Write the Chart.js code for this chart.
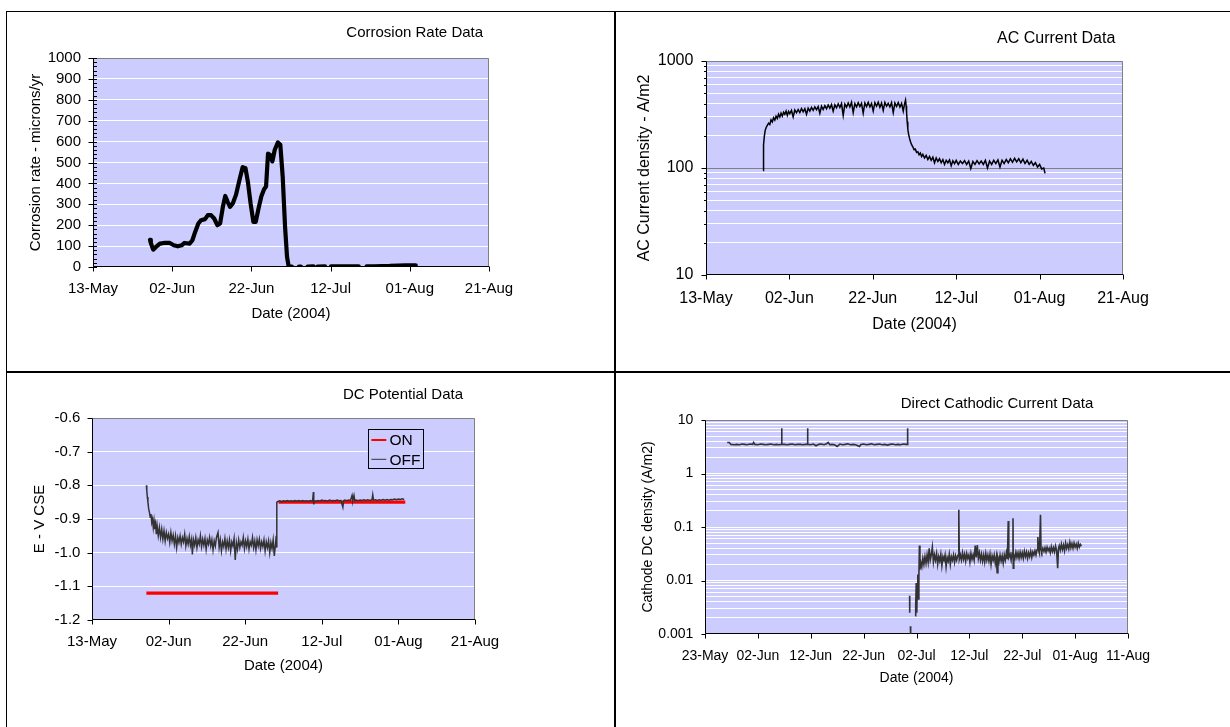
<!DOCTYPE html>
<html>
<head>
<meta charset="utf-8">
<title>Corrosion monitoring 2004</title>
<script src="https://cdn.jsdelivr.net/npm/chart.js@4.4.1/dist/chart.umd.min.js"></script>
<style>
  html, body { margin: 0; padding: 0; background: #fff; }
  #page { position: relative; width: 1230px; height: 727px; overflow: hidden; background: #fff; }
  #page canvas { position: absolute; }
  .rule { position: absolute; background: #000; z-index: 2; }
</style>
</head>
<body>
<div id="page">
  <canvas id="corrChart"></canvas>
  <canvas id="acChart"></canvas>
  <canvas id="dcChart"></canvas>
  <canvas id="cathChart"></canvas>
  <div class="rule" style="left:6px;top:11px;width:1224px;height:1px"></div>
  <div class="rule" style="left:6px;top:11px;width:1px;height:716px"></div>
  <div class="rule" style="left:614px;top:11px;width:2px;height:716px"></div>
  <div class="rule" style="left:6px;top:371px;width:1224px;height:2px"></div>
</div>
<script>
/* ============================================================
   Four Excel-style monitoring charts, redrawn with Chart.js.
   x values are days counted from 13-May-2004.
   ============================================================ */

const FONT = '"Liberation Sans", Arial, Helvetica, sans-serif';
const C = {
  plot: "#CCCCFF", grid: "#FFFFFF", frame: "#808080", axis: "#000000",
  ink: "#000000", trace: "#333333", red: "#FF0000", none: "rgba(0,0,0,0)",
};

/* ---------- axis ticks ---------- */
const TICK_DAYS = [0, 20, 40, 60, 80, 100];
const TICK_LABELS = ["13-May", "02-Jun", "22-Jun", "12-Jul", "01-Aug", "21-Aug"];
const TICK_DAYS_CATH = [10, 20, 30, 40, 50, 60, 70, 80, 90];
const TICK_LABELS_CATH = ["23-May", "02-Jun", "12-Jun", "22-Jun", "02-Jul",
                          "12-Jul", "22-Jul", "01-Aug", "11-Aug"];
const AC_DECADES = [10, 100, 1000];
const CATH_DECADES = [0.001, 0.01, 0.1, 1, 10];
const CATH_DECADE_LABELS = ["0.001", "0.01", "0.1", "1", "10"];

/* ---------- corrosion rate (microns/yr) ---------- */
const CR_DAY = [14.4, 14.6, 15.2, 15.9, 16.9, 17.9, 19.4, 20.4, 21.4, 22.4, 23.1, 24.4,
  25.1, 25.8, 26.6, 27.3, 28.3, 29.0, 29.8, 30.6, 31.4, 32.1, 32.8, 33.4, 34.0, 34.6,
  35.3, 36.1, 37.0, 37.8, 38.5, 39.1, 39.8, 40.5, 41.1, 41.8, 42.5, 43.2, 43.7, 44.2,
  44.7, 45.3, 45.9, 46.7, 47.3, 47.9, 48.5, 49.0, 49.4, 50.2, 50.5, 52.0, 52.5, 52.8,
  54.2, 55.7, 56.2, 56.7, 58.6, 59.3, 60.1, 62.0, 64.0, 67.1, 68.0, 69.1, 71.0, 73.0,
  74.6, 74.8, 75.0, 77.0, 79.0, 81.5];
const CR_VAL = [130, 115, 83, 96, 112, 115, 115, 104, 99, 104, 115, 112,
  128, 168, 208, 224, 229, 248, 248, 232, 200, 208, 288, 340, 312, 288,
  304, 345, 417, 478, 473, 409, 304, 216, 216, 280, 337, 372, 385, 542,
  537, 505, 561, 596, 585, 433, 192, 48, 3, 2, null, 2, 2, null,
  2, 3, null, 2, 3, null, 3, 3, 3, 3, null, 3, 3, 4,
  4, null, 6, 7, 8, 8];

/* ---------- AC current density (A/m2) ---------- */
const AC_DAY = [13.7, 13.75, 13.85, 14.0, 14.2, 14.4, 14.7, 15.0, 15.3, 15.6,
  15.9, 16.2, 16.5, 16.8, 17.1, 17.4, 17.7, 18.0, 18.3, 18.6,
  18.9, 19.2, 19.5, 19.8, 20.1, 20.5, 20.9, 21.3, 21.7, 22.1,
  22.5, 22.9, 23.3, 23.7, 24.1, 24.5, 24.9, 25.3, 25.7, 26.1,
  26.5, 26.9, 27.3, 27.7, 28.1, 28.5, 28.9, 29.3, 29.7, 30.1,
  30.5, 30.9, 31.3, 31.7, 32.1, 32.5, 32.9, 33.3, 33.7, 34.1,
  34.5, 34.9, 35.3, 35.7, 36.1, 36.5, 36.9, 37.3, 37.7, 38.1,
  38.5, 38.9, 39.3, 39.7, 40.1, 40.5, 40.9, 41.3, 41.7, 42.1,
  42.5, 42.9, 43.3, 43.7, 44.1, 44.5, 44.9, 45.3, 45.7, 46.1,
  46.5, 46.9, 47.3, 47.6, 47.85, 48.0, 48.1, 48.25, 48.4, 48.6,
  48.8, 49.0, 49.3, 49.6, 49.9, 50.2, 50.5, 50.8, 51.1, 51.4,
  51.7, 52.0, 52.4, 52.8, 53.2, 53.6, 54.0, 54.4, 54.8, 55.2,
  55.6, 56.0, 56.4, 56.8, 57.2, 57.6, 58.0, 58.4, 58.8, 59.2,
  59.6, 60.0, 60.5, 61.0, 61.5, 62.0, 62.5, 63.0, 63.5, 64.0,
  64.5, 65.0, 65.5, 66.0, 66.5, 67.0, 67.5, 68.0, 68.5, 69.0,
  69.5, 70.0, 70.5, 71.0, 71.5, 72.0, 72.5, 73.0, 73.5, 74.0,
  74.5, 75.0, 75.5, 76.0, 76.5, 77.0, 77.5, 78.0, 78.5, 79.0,
  79.5, 80.0, 80.5, 81.0, 81.3];
const AC_VAL = [95, 130, 165, 200, 225, 238, 250, 262, 255, 282,
  270, 295, 280, 305, 290, 318, 300, 325, 305, 332,
  318, 340, 310, 338, 322, 345, 300, 348, 328, 352,
  330, 360, 335, 358, 318, 362, 340, 368, 345, 372,
  350, 375, 325, 378, 352, 382, 358, 388, 362, 392,
  340, 390, 365, 398, 368, 400, 310, 395, 370, 405,
  372, 412, 330, 400, 372, 408, 375, 402, 325, 405,
  375, 410, 372, 400, 340, 408, 378, 412, 370, 405,
  345, 410, 378, 402, 372, 408, 330, 405, 376, 410,
  372, 402, 340, 395, 430, 380, 330, 270, 230, 205,
  190, 178, 165, 158, 148, 150, 140, 142, 133, 138,
  128, 134, 124, 131, 120, 128, 118, 126, 112, 124,
  115, 122, 112, 120, 108, 118, 112, 119, 105, 117,
  110, 118, 108, 116, 110, 117, 108, 116, 99, 115,
  108, 117, 109, 116, 108, 118, 100, 116, 108, 118,
  110, 119, 102, 118, 110, 120, 112, 122, 113, 123,
  114, 122, 112, 121, 110, 118, 108, 115, 106, 112,
  102, 108, 98, 100, 89];

/* ---------- DC potential (V CSE) ---------- */
const ON_DAY = [14.2, 48.6, 48.65, 48.7, 81.8];
const ON_VAL = [-1.12, -1.12, null, -0.85, -0.85];
const OFF_DAY = [14.2, 14.3, 14.45, 14.6, 14.8, 15.0, 15.2, 15.4, 15.6, 15.8,
  16.0, 16.2, 16.4, 16.6, 16.8, 17.0, 17.3, 17.6, 17.9, 18.2,
  18.5, 18.8, 19.1, 19.4, 19.7, 20.0, 20.3, 20.6, 20.9, 21.2,
  21.5, 21.8, 22.1, 22.4, 22.7, 23.0, 23.3, 23.6, 23.9, 24.2,
  24.5, 24.8, 25.1, 25.4, 25.7, 26.0, 26.2, 26.5, 26.8, 27.1,
  27.4, 27.7, 28.0, 28.3, 28.6, 28.9, 29.2, 29.5, 29.8, 30.1,
  30.4, 30.7, 31.0, 31.3, 31.6, 31.9, 32.2, 32.5, 32.9, 33.2,
  33.5, 33.8, 34.1, 34.4, 34.7, 35.0, 35.3, 35.6, 35.9, 36.2,
  36.5, 36.8, 37.1, 37.4, 37.7, 38.0, 38.3, 38.6, 38.9, 39.2,
  39.5, 39.8, 40.1, 40.4, 40.7, 41.0, 41.3, 41.6, 41.9, 42.2,
  42.5, 42.8, 43.1, 43.4, 43.7, 44.0, 44.3, 44.6, 44.9, 45.2,
  45.5, 45.8, 46.1, 46.4, 46.7, 47.0, 47.3, 47.6, 47.9, 48.1,
  48.2, 48.3, 48.6, 49.0, 49.5, 50.0, 50.5, 51.0, 51.5, 52.0,
  52.5, 53.0, 53.5, 54.0, 54.5, 55.0, 55.5, 56.0, 56.5, 57.0,
  57.6, 57.8, 57.9, 58.0, 58.5, 59.0, 59.5, 60.0, 60.5, 61.0,
  61.5, 62.0, 62.5, 63.0, 63.5, 64.0, 64.5, 65.0, 65.5, 65.7,
  66.0, 66.5, 67.0, 67.5, 67.9, 68.1, 68.4, 68.6, 69.0, 69.5,
  70.0, 70.5, 71.0, 71.5, 72.0, 72.5, 73.1, 73.3, 73.5, 74.0,
  74.5, 75.0, 75.5, 76.0, 76.5, 77.0, 77.5, 78.0, 78.5, 79.0,
  79.5, 80.0, 80.5, 81.0, 81.5];
const OFF_VAL = [-0.800, -0.815, -0.835, -0.850, -0.870, -0.880, -0.895, -0.885, -0.910, -0.900,
  -0.925, -0.905, -0.930, -0.915, -0.945, -0.920, -0.950, -0.925, -0.955, -0.930,
  -0.960, -0.935, -0.965, -0.940, -0.958, -0.945, -0.970, -0.940, -0.965, -0.948,
  -0.975, -0.950, -0.985, -0.955, -0.970, -0.950, -0.975, -0.955, -0.968, -0.945,
  -0.980, -0.958, -0.975, -0.952, -0.978, -0.960, -1.005, -0.962, -0.978, -0.955,
  -0.985, -0.962, -0.975, -0.950, -0.982, -0.960, -0.978, -0.958, -0.990, -0.962,
  -0.975, -0.955, -0.980, -0.962, -0.992, -0.965, -0.980, -0.955, -0.940, -0.985,
  -0.962, -0.995, -0.968, -0.982, -0.958, -0.990, -0.965, -0.985, -0.962, -0.995,
  -0.968, -0.980, -0.958, -1.022, -0.970, -0.990, -0.962, -0.985, -0.968, -0.978,
  -0.955, -0.988, -0.965, -0.982, -0.960, -0.990, -0.968, -0.978, -0.955, -0.985,
  -0.965, -0.992, -0.962, -0.980, -0.960, -0.988, -0.968, -0.982, -0.962, -0.995,
  -0.968, -0.985, -0.965, -1.000, -0.970, -0.988, -0.962, -1.010, -0.975, -0.950,
  -0.985, -0.850, -0.848, -0.846, -0.849, -0.846, -0.848, -0.845, -0.848, -0.846,
  -0.848, -0.845, -0.847, -0.845, -0.848, -0.845, -0.847, -0.846, -0.848, -0.845,
  -0.847, -0.820, -0.857, -0.846, -0.847, -0.845, -0.847, -0.844, -0.846, -0.845,
  -0.847, -0.844, -0.846, -0.845, -0.846, -0.844, -0.846, -0.845, -0.865, -0.846,
  -0.844, -0.846, -0.844, -0.845, -0.830, -0.845, -0.830, -0.845, -0.844, -0.846,
  -0.844, -0.845, -0.843, -0.845, -0.843, -0.845, -0.843, -0.828, -0.844, -0.843,
  -0.845, -0.843, -0.844, -0.842, -0.844, -0.842, -0.844, -0.842, -0.843, -0.841,
  -0.843, -0.841, -0.842, -0.840, -0.842];

/* ---------- direct cathodic current density (A/m2) ---------- */
const CATH_DAY = [14.2, 14.6, 14.9, 15.5, 16.0, 16.5, 17.0, 17.5, 18.0, 18.5,
  19.0, 19.2, 19.4, 20.0, 20.5, 21.0, 21.5, 22.0, 22.5, 23.0,
  23.5, 24.0, 24.45, 24.5, 24.55, 25.0, 25.5, 26.0, 26.5, 27.0,
  27.5, 28.0, 28.5, 29.0, 29.35, 29.4, 29.45, 30.0, 30.5, 31.0,
  31.5, 32.0, 32.5, 33.0, 33.3, 33.6, 34.0, 34.5, 35.0, 35.5,
  36.0, 36.5, 37.0, 37.5, 38.0, 38.5, 39.2, 39.5, 40.0, 40.5,
  41.0, 41.5, 42.0, 42.5, 43.0, 43.5, 44.0, 44.5, 45.0, 45.5,
  46.0, 46.5, 47.0, 47.5, 48.0, 48.25, 48.3, 48.35, 48.5, 48.55,
  48.7, 48.72, 48.74, 48.85, 48.9, 48.95, 49.75, 49.85, 49.95, 50.05,
  50.15, 50.25, 50.35, 50.45, 50.55, 50.65, 50.8, 51.0, 51.2, 51.4,
  51.6, 51.8, 52.0, 52.2, 52.4, 52.6, 52.8, 53.0, 53.2, 53.4,
  53.6, 53.8, 54.0, 54.2, 54.4, 54.6, 54.8, 55.0, 55.2, 55.4,
  55.6, 55.8, 56.0, 56.2, 56.4, 56.6, 56.8, 57.0, 57.2, 57.4,
  57.6, 57.85, 58.0, 58.1, 58.3, 58.5, 58.7, 58.9, 59.1, 59.3,
  59.5, 59.7, 59.9, 60.1, 60.3, 60.5, 60.7, 60.9, 61.1, 61.3,
  61.5, 61.7, 61.9, 62.1, 62.3, 62.5, 62.7, 62.9, 63.1, 63.3,
  63.5, 63.7, 63.9, 64.1, 64.3, 64.5, 64.7, 64.9, 65.1, 65.25,
  65.4, 65.6, 65.8, 66.0, 66.2, 66.4, 66.6, 66.8, 67.0, 67.2,
  67.35, 67.45, 67.7, 67.9, 68.1, 68.25, 68.3, 68.4, 68.6, 68.8,
  69.0, 69.2, 69.4, 69.6, 69.8, 70.0, 70.2, 70.4, 70.6, 70.8,
  71.0, 71.2, 71.4, 71.6, 71.8, 72.0, 72.2, 72.4, 72.6, 72.8,
  72.95, 73.1, 73.25, 73.45, 73.55, 73.7, 73.9, 74.1, 74.3, 74.5,
  74.7, 74.9, 75.1, 75.3, 75.5, 75.7, 75.9, 76.1, 76.3, 76.5,
  76.7, 76.85, 77.0, 77.2, 77.4, 77.6, 77.8, 78.0, 78.2, 78.4,
  78.6, 78.8, 79.0, 79.2, 79.4, 79.6, 79.8, 80.0, 80.2, 80.4,
  80.6, 80.8, 81.0, 81.2];
const CATH_VAL = [3.8, 3.8, 3.5, 3.45, 3.5, 3.45, 3.55, 3.5, 3.45, 3.55,
  3.5, 3.8, 3.5, 3.45, 3.55, 3.5, 3.45, 3.5, 3.55, 3.45,
  3.5, 3.45, 3.5, 7.0, 3.5, 3.5, 3.45, 3.5, 3.55, 3.45,
  3.5, 3.5, 3.45, 3.5, 3.5, 7.0, 3.5, 3.45, 3.55, 3.3,
  3.5, 3.55, 3.45, 3.6, 3.8, 3.45, 3.5, 3.45, 3.2, 3.55,
  3.45, 3.5, 3.6, 3.45, 3.5, 3.45, 3.2, 3.5, 3.55, 3.45,
  3.5, 3.6, 3.45, 3.5, 3.55, 3.45, 3.5, 3.4, 3.5, 3.55,
  3.45, 3.5, 3.45, 3.55, 3.5, 3.5, 7.0, 3.5, 3.5, null,
  0.0052, 0.0025, null, 0.0014, 0.0008, null, 0.0022, 0.0035, 0.009, 0.0025,
  0.008, 0.013, 0.0045, 0.012, 0.045, 0.016, 0.022, 0.018, 0.026, 0.02,
  0.028, 0.021, 0.03, 0.022, 0.04, 0.024, 0.03, 0.042, 0.022, 0.03,
  0.024, 0.032, 0.02, 0.028, 0.023, 0.031, 0.019, 0.028, 0.024, 0.03,
  0.018, 0.027, 0.023, 0.031, 0.02, 0.028, 0.024, 0.03, 0.022, 0.029,
  0.024, 0.03, 0.21, 0.025, 0.03, 0.024, 0.033, 0.025, 0.031, 0.023,
  0.032, 0.026, 0.03, 0.022, 0.032, 0.025, 0.03, 0.024, 0.045, 0.027,
  0.046, 0.026, 0.033, 0.024, 0.031, 0.023, 0.03, 0.022, 0.032, 0.024,
  0.03, 0.023, 0.031, 0.02, 0.029, 0.024, 0.03, 0.021, 0.028, 0.014,
  0.027, 0.022, 0.03, 0.023, 0.029, 0.021, 0.03, 0.024, 0.033, 0.025,
  0.13, 0.027, 0.031, 0.024, 0.033, 0.145, 0.017, 0.03, 0.026, 0.034,
  0.027, 0.033, 0.026, 0.034, 0.027, 0.033, 0.026, 0.035, 0.028, 0.034,
  0.026, 0.033, 0.028, 0.035, 0.027, 0.034, 0.03, 0.036, 0.03, 0.038,
  0.065, 0.036, 0.032, 0.17, 0.038, 0.034, 0.04, 0.035, 0.041, 0.034,
  0.042, 0.036, 0.04, 0.033, 0.043, 0.035, 0.041, 0.034, 0.044, 0.036,
  0.017, 0.04, 0.045, 0.037, 0.048, 0.038, 0.046, 0.036, 0.05, 0.04,
  0.047, 0.039, 0.052, 0.041, 0.049, 0.04, 0.05, 0.042, 0.048, 0.04,
  0.05, 0.042, 0.047, 0.044];

/* ---------- page layout (page pixels) ---------- */
const LAYOUT = {
  corr: { cell: [7, 12, 607, 359], plot: [93, 58, 489, 267], font: 15,
          title: ["Corrosion Rate Data", 414.7, 33, 15], yTitle: "Corrosion rate - microns/yr",
          yTitleX: 36.3, yLabRight: 81, xLabY: 289.3, xTitleY: 313.7 },
  ac:   { cell: [616, 12, 614, 359], plot: [706, 61, 1123, 275], font: 16,
          title: ["AC Current Data", 1056.2, 38.3, 16], yTitle: "AC Current density - A/m2",
          yTitleX: 645, yLabRight: 693.4, xLabY: 298.3, xTitleY: 325 },
  dc:   { cell: [7, 373, 607, 354], plot: [92, 418, 475, 620], font: 15,
          title: ["DC Potential Data", 403, 395, 15], yTitle: "E - V CSE",
          yTitleX: 39.8, yLabRight: 80.4, xLabY: 642.3, xTitleY: 666.3 },
  cath: { cell: [616, 373, 614, 354], plot: [705, 420, 1128, 634], font: 14,
          title: ["Direct Cathodic Current Data", 997, 404.2, 15], yTitle: "Cathode DC density (A/m2)",
          yTitleX: 648.3, yLabRight: 693.4, xLabY: 655.8, xTitleY: 678.3 },
};

const pts = (xs, ys) => xs.map((x, i) => ({ x, y: ys[i] }));

function logTicks(decades) {
  const out = [];
  decades.forEach((d, i) => {
    out.push(d);
    if (i < decades.length - 1) for (let k = 2; k <= 9; k++) out.push(+(d * k).toPrecision(6));
  });
  return out;
}

const isEdge = (ctx) => {
  const v = ctx.tick.value, s = ctx.scale;
  return Math.abs(v - s.min) < 1e-9 || Math.abs(v - s.max) < 1e-9;
};

/* ---------- plot background, frame, Excel tick marks, title, legend ---------- */
const excelFrame = {
  id: "excelFrame",
  beforeDraw(chart) {
    const { ctx, chartArea: a } = chart;
    ctx.save();
    ctx.fillStyle = C.plot;
    ctx.fillRect(a.left, a.top, a.right - a.left, a.bottom - a.top);
    ctx.restore();
  },
  beforeDatasetsDraw(chart, args, o) {
    const { ctx, chartArea: a, scales: { x, y } } = chart;
    const L = Math.round(a.left) + 0.5, R = Math.round(a.right) - 0.5;
    const T = Math.round(a.top) + 0.5, B = Math.round(a.bottom) - 0.5;
    const m = o.marks;
    ctx.save();
    ctx.lineWidth = 1;
    ctx.strokeStyle = C.frame;
    ctx.beginPath(); ctx.moveTo(L, T); ctx.lineTo(R, T); ctx.lineTo(R, B); ctx.stroke();
    ctx.strokeStyle = C.axis;
    ctx.beginPath(); ctx.moveTo(L, T); ctx.lineTo(L, B); ctx.lineTo(R + 0.5, B); ctx.stroke();
    ctx.beginPath();
    x.ticks.forEach((t) => {
      const px = Math.round(x.getPixelForValue(t.value)) + 0.5;
      ctx.moveTo(px, B); ctx.lineTo(px, B + m.xOut);
    });
    y.ticks.forEach((t) => {
      const py = Math.round(y.getPixelForValue(t.value)) + 0.5;
      if (t.label !== "") { ctx.moveTo(L - m.yOut, py); ctx.lineTo(L + m.yIn, py); }
      else if (m.minorOut) { ctx.moveTo(L - m.minorOut, py); ctx.lineTo(L, py); }
    });
    if (m.minorStep) {
      for (let v = y.min; v <= y.max; v += m.minorStep) {
        const py = Math.round(y.getPixelForValue(v)) + 0.5;
        ctx.moveTo(L, py); ctx.lineTo(L + m.minorIn, py);
      }
    }
    ctx.stroke();
    ctx.restore();
  },
  afterDraw(chart, args, o) {
    const { ctx } = chart;
    const [cx, cy] = o.cell;
    const [text, tx, ty, size] = o.title;
    ctx.save();
    ctx.fillStyle = C.ink;
    ctx.font = `${size}px ${FONT}`;
    ctx.textAlign = "center";
    ctx.textBaseline = "middle";
    ctx.fillText(text, tx - cx, ty - cy);
    if (o.legend) {
      const g = o.legend;
      const x1 = g.box[0] - cx, y1 = g.box[1] - cy, x2 = g.box[2] - cx, y2 = g.box[3] - cy;
      ctx.fillStyle = C.plot;
      ctx.fillRect(x1, y1, x2 - x1, y2 - y1);
      ctx.strokeStyle = "#000";
      ctx.lineWidth = 1;
      ctx.strokeRect(Math.round(x1) + 0.5, Math.round(y1) + 0.5, Math.round(x2 - x1), Math.round(y2 - y1));
      ctx.font = `${g.size}px ${FONT}`;
      ctx.textAlign = "left";
      chart.data.datasets.forEach((ds, i) => {
        const ry = g.rows[i] - cy;
        ctx.strokeStyle = ds.borderColor;
        ctx.lineWidth = i === 0 ? 2 : 1;
        ctx.beginPath();
        ctx.moveTo(g.line[0] - cx, ry); ctx.lineTo(g.line[1] - cx, ry);
        ctx.stroke();
        ctx.fillStyle = C.ink;
        ctx.fillText(ds.label, g.textX - cx, ry + 1);
      });
    }
    ctx.restore();
  },
};

/* ---------- shared chart builder ---------- */
function buildPanel(id, L, datasets, yOpts, xDays, xLabels, extra) {
  const cv = document.getElementById(id);
  const [cx, cy, cw, ch] = L.cell;
  const [pl, pt, pr, pb] = L.plot;
  const lh = L.font * 1.2;
  cv.width = cw; cv.height = ch;
  cv.style.left = cx + "px"; cv.style.top = cy + "px";
  const font = { family: FONT, size: L.font };

  const y = Object.assign({}, yOpts, {
    afterFit: (s) => { s.width = pl - cx; },
    border: { display: false },
    title: { display: true, text: L.yTitle, color: C.ink, font,
             padding: { top: L.yTitleX - cx - lh / 2, bottom: 0 } },
    ticks: Object.assign({ autoSkip: false, color: C.ink, font, padding: pl - L.yLabRight }, yOpts.ticks),
    grid: Object.assign({ drawTicks: false }, yOpts.grid),
  });

  return new Chart(cv, {
    type: "line",
    data: { datasets },
    options: {
      responsive: false, animation: false, devicePixelRatio: 1,
      layout: { padding: { left: 0, top: pt - cy, right: cx + cw - pr, bottom: 0 } },
      elements: { point: { radius: 0, hoverRadius: 0 }, line: { tension: 0 } },
      plugins: {
        legend: { display: false },
        tooltip: { enabled: false },
        excelFrame: Object.assign({ cell: [cx, cy], title: L.title }, extra),
      },
      scales: {
        x: {
          type: "linear", min: xDays[0], max: xDays[xDays.length - 1],
          afterBuildTicks: (s) => { s.ticks = xDays.map((v) => ({ value: v })); },
          afterFit: (s) => { s.height = cy + ch - pb; },
          grid: { display: false, drawTicks: false },
          border: { display: false },
          ticks: { autoSkip: false, maxRotation: 0, color: C.ink, font,
                   padding: L.xLabY - pb - lh / 2, callback: (v, i) => xLabels[i] },
          title: { display: true, text: "Date (2004)", color: C.ink, font,
                   padding: { top: 0, bottom: cy + ch - L.xTitleY - lh / 2 } },
        },
        y,
      },
    },
    plugins: [excelFrame],
  });
}

/* ---------- corrosion rate ---------- */
buildPanel("corrChart", LAYOUT.corr, [{
  label: "Corrosion rate", data: pts(CR_DAY, CR_VAL),
  borderColor: "#000", borderWidth: 4.2, borderJoinStyle: "round", borderCapStyle: "round",
  spanGaps: false,
}], {
  type: "linear", min: 0, max: 1000,
  ticks: { stepSize: 100, callback: (v) => String(v) },
  grid: { color: (c) => isEdge(c) ? C.none : C.grid },
}, TICK_DAYS, TICK_LABELS, { marks: { xOut: 5, yOut: 5, yIn: 3.5, minorStep: 20, minorIn: 3.5 } });

/* ---------- AC current ---------- */
buildPanel("acChart", LAYOUT.ac, [{
  label: "AC current density", data: pts(AC_DAY, AC_VAL),
  borderColor: "#000", borderWidth: 1.5,
}], {
  type: "logarithmic", min: 10, max: 1000,
  afterBuildTicks: (s) => { s.ticks = logTicks(AC_DECADES).map((v) => ({ value: v })); },
  ticks: { callback: (v) => AC_DECADES.includes(v) ? String(v) : "" },
  grid: { color: (c) => isEdge(c) ? C.none : (c.tick.value === 100 ? C.frame : C.grid) },
}, TICK_DAYS, TICK_LABELS, { marks: { xOut: 5, yOut: 5, yIn: 0, minorOut: 2.5 } });

/* ---------- DC potential ---------- */
buildPanel("dcChart", LAYOUT.dc, [
  { label: "ON", data: pts(ON_DAY, ON_VAL), borderColor: C.red, borderWidth: 3.2, order: 1 },
  { label: "OFF", data: pts(OFF_DAY, OFF_VAL), borderColor: C.trace, borderWidth: 1.5, order: 0 },
], {
  type: "linear", min: -1.2, max: -0.6,
  ticks: { stepSize: 0.1, callback: (v) => v.toFixed(1) },
  grid: { color: (c) => isEdge(c) ? C.none : C.grid },
}, TICK_DAYS, TICK_LABELS, {
  marks: { xOut: 5, yOut: 5, yIn: 0 },
  legend: { box: [367.5, 429.3, 422.7, 468.7], rows: [440, 459.3], line: [371.4, 386.3],
            textX: 389.4, size: 15.5 },
});

/* ---------- direct cathodic current ---------- */
buildPanel("cathChart", LAYOUT.cath, [{
  label: "Cathode DC density", data: pts(CATH_DAY, CATH_VAL),
  borderColor: C.trace, borderWidth: 1.6,
}], {
  type: "logarithmic", min: 0.001, max: 10,
  afterBuildTicks: (s) => { s.ticks = logTicks(CATH_DECADES).map((v) => ({ value: v })); },
  ticks: { callback: (v) => {
    const i = CATH_DECADES.indexOf(v);
    return i < 0 ? "" : CATH_DECADE_LABELS[i];
  } },
  grid: { color: (c) => isEdge(c) ? C.none : C.grid },
}, TICK_DAYS_CATH, TICK_LABELS_CATH, { marks: { xOut: 5, yOut: 4, yIn: 0 } });
</script>
</body>
</html>
